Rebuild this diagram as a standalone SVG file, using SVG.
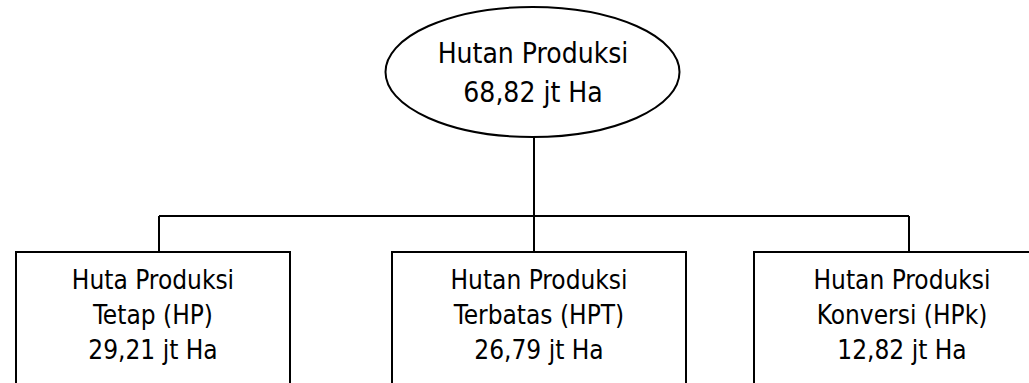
<svg xmlns="http://www.w3.org/2000/svg" width="1029" height="383" viewBox="0 0 1029 383">
<style>
.s{fill:#fff;stroke:#000;stroke-width:2}
.l{fill:none;stroke:#000;stroke-width:2}
.t{font-family:"DejaVu Sans Condensed","DejaVu Sans",sans-serif;font-stretch:condensed;font-size:26px;fill:#000;text-anchor:middle}
.e{font-size:28px}
</style>
<g id="connectors">
<path class="l" d="M534 137V216M159 216H909M159 216V252M534 216V252M909 216V252"/>
</g>
<g id="root">
<ellipse class="s" cx="532.5" cy="72" rx="147" ry="65"/>
<text class="t e" x="533" y="63">Hutan Produksi</text>
<text class="t e" x="533" y="102">68,82 jt Ha</text>
</g>
<g id="hp">
<rect class="s" x="16" y="252" width="274" height="150"/>
<text class="t" x="153" y="289">Huta Produksi</text>
<text class="t" x="153" y="324">Tetap (HP)</text>
<text class="t" x="153" y="359">29,21 jt Ha</text>
</g>
<g id="hpt">
<rect class="s" x="392" y="252" width="294" height="150"/>
<text class="t" x="539" y="289">Hutan Produksi</text>
<text class="t" x="539" y="324">Terbatas (HPT)</text>
<text class="t" x="539" y="359">26,79 jt Ha</text>
</g>
<g id="hpk">
<rect class="s" x="754" y="252" width="296" height="150"/>
<text class="t" x="902" y="289">Hutan Produksi</text>
<text class="t" x="902" y="324">Konversi (HPk)</text>
<text class="t" x="902" y="359">12,82 jt Ha</text>
</g>
</svg>
